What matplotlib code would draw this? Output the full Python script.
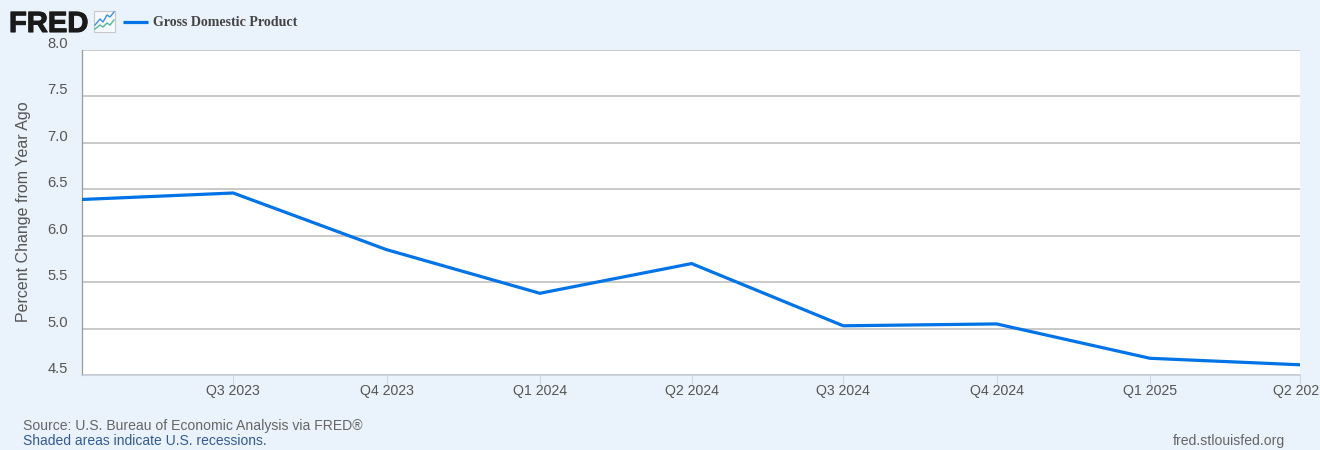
import numpy as np
import pandas as pd
import matplotlib
matplotlib.use('Agg')
import matplotlib.pyplot as plt
import matplotlib.patheffects as pe
from matplotlib.patches import Rectangle
from matplotlib.transforms import ScaledTranslation

dates = ['2023-04-01', '2023-07-01', '2023-10-01', '2024-01-01', '2024-04-01',
         '2024-07-01', '2024-10-01', '2025-01-01', '2025-04-01']
gdp = [6.39, 6.46, 5.85, 5.38, 5.70, 5.03, 5.05, 4.68, 4.61]
xlabels = ['Q3 2023', 'Q4 2023', 'Q1 2024', 'Q2 2024', 'Q3 2024', 'Q4 2024', 'Q1 2025', 'Q2 2025']
yticks = [4.5, 5.0, 5.5, 6.0, 6.5, 7.0, 7.5, 8.0]

W, H = 1320, 450
bg = '#eaf2fb'
blue = '#0073e6'
txt = '#555555'

plt.rcParams['font.family'] = ['Liberation Sans', 'DejaVu Sans']

fig = plt.figure(figsize=(W / 100, H / 100), dpi=100, facecolor=bg)

# plot area, pixel positions from the reference
ax = fig.add_axes([81.5 / W, 1 - 375 / H, (1300 - 81.5) / W, (375 - 50) / H])
ax.set_facecolor('white')

x = pd.to_datetime(dates)
ax.plot(x, gdp, color=blue, linewidth=2.3, solid_joinstyle='round', zorder=3)
ax.set_xlim(x[0], x[-1])
ax.set_ylim(4.5, 8.0)

ax.set_yticks(yticks)
ax.set_yticklabels(['%.1f' % v for v in yticks], fontsize=10.6, color=txt)
ax.set_xticks(x[1:])
ax.set_xticklabels(xlabels, fontsize=10.2, color=txt)
ax.grid(axis='y', color='#c0c0c0', linewidth=1.2, zorder=1)
ax.set_axisbelow(True)
ax.tick_params(axis='y', length=0, pad=10)
ax.tick_params(axis='x', length=6.4, width=0.8, color='#ccd6eb', pad=0)

# FRED draws y labels above their gridline
shift = ScaledTranslation(0, 7.5 / 100, fig.dpi_scale_trans)
for lab in ax.get_yticklabels():
    lab.set_transform(lab.get_transform() + shift)

for s in ['top', 'right']:
    ax.spines[s].set_visible(False)
ax.spines['left'].set_color('#9a9a9a')
ax.spines['left'].set_linewidth(0.9)
ax.spines['bottom'].set_color('#c3ccd8')
ax.spines['bottom'].set_linewidth(1.1)

fig.text(24 / W, 1 - 212 / H, 'Percent Change from Year Ago', rotation=90, fontsize=11.5,
         color=txt, ha='center', va='center')

# header and footer in pixel coordinates
top = fig.add_axes([0, 0, 1, 1], facecolor='none')
top.set_xlim(0, W)
top.set_ylim(H, 0)
top.axis('off')

top.text(9, 32, 'FRED', fontsize=21, fontweight='bold', color='#1a1a1a', va='baseline', ha='left',
         path_effects=[pe.withStroke(linewidth=0.8, foreground='#1a1a1a')])
top.add_patch(Rectangle((93.5, 10.5), 21, 21, facecolor='#f7fafc', edgecolor='#c8c8c8', linewidth=0.8))
top.plot([95, 100, 103, 107, 110, 114], [25, 19, 22, 15, 17, 12], color='#3b8fe0', linewidth=1.0)
top.plot([95, 100, 103, 107, 110, 114], [29, 25, 27, 23, 25, 20], color='#4fb89a', linewidth=1.0)

top.plot([123, 148], [21.5, 21.5], color=blue, linewidth=2.3, solid_capstyle='butt')
top.text(153, 22, 'Gross Domestic Product', fontsize=10.05, fontweight='bold', color='#444444',
         family=['Liberation Serif', 'DejaVu Serif'], va='center', ha='left')

top.text(23, 426, 'Source: U.S. Bureau of Economic Analysis via FRED®', fontsize=10.1, color='#666666',
         va='center', ha='left')
top.text(23, 441, 'Shaded areas indicate U.S. recessions.', fontsize=10, color='#335a94',
         va='center', ha='left')
top.text(1285, 441, 'fred.stlouisfed.org', fontsize=10.1, color='#666666', va='center', ha='right')

plt.savefig('out.png', dpi=100, facecolor=bg)
plt.close()
